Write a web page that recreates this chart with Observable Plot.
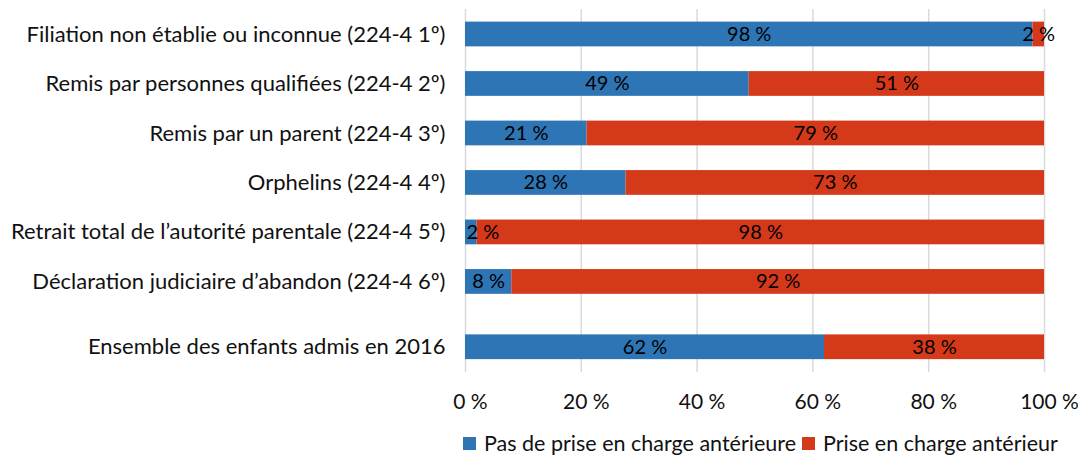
<!DOCTYPE html>
<html>
<head>
<meta charset="utf-8">
<script src="https://cdn.jsdelivr.net/npm/d3@7"></script>
<script src="https://cdn.jsdelivr.net/npm/@observablehq/plot@0.6"></script>
<style>
  html, body { margin: 0; padding: 0; background: #fff; }
  #chart { position: relative; width: 1078px; height: 455px; font-family: Lato, "Open Sans", sans-serif; }
  #legend { display: flex; align-items: center; margin-left: 463px; margin-top: 12px; font-size: 21.5px; line-height: 22px; color: #111; }
  .sw { width: 13px; height: 13px; display: inline-block; margin-right: 8px; }
  .item { display: flex; align-items: center; margin-right: 6px; }
</style>
</head>
<body>
<div id="chart"></div>
<script>
const categories = [
  "Filiation non établie ou inconnue (224-4 1º)",
  "Remis par personnes qualifiées (224-4 2º)",
  "Remis par un parent (224-4 3º)",
  "Orphelins (224-4 4º)",
  "Retrait total de l’autorité parentale (224-4 5º)",
  "Déclaration judiciaire d’abandon (224-4 6º)",
  "Ensemble des enfants admis en 2016"
];
const pasPrise = [98, 49, 21, 28, 2, 8, 62];
const prise = [2, 51, 79, 73, 98, 92, 38];
const seriesNames = ["Pas de prise en charge antérieure", "Prise en charge antérieur"];
const seriesColors = ["#2E75B6", "#D4391A"];
const xTicks = [0, 20, 40, 60, 80, 100];

// row position: the last row (total) is set apart with an extra gap
const rowPos = (i) => i < categories.length - 1 ? i : i + 0.32;

const rows = [];
categories.forEach((c, i) => {
  const vals = [pasPrise[i], prise[i]];
  const total = d3.sum(vals);
  let cum = 0;
  vals.forEach((v, k) => {
    const x1 = cum / total * 100;
    cum += v;
    const x2 = cum / total * 100;
    rows.push({cat: c, pos: rowPos(i), series: seriesNames[k], value: v, x1, x2, mid: (x1 + x2) / 2});
  });
});

const labelOf = new Map(categories.map((c, i) => [rowPos(i), c]));
const half = 0.25;
const fs = 22;
const fsv = 20;

const plot = Plot.plot({
  width: 1078,
  height: 420,
  marginLeft: 465,
  marginRight: 34,
  marginTop: 9,
  marginBottom: 48,
  style: {fontFamily: "Lato, 'Open Sans', sans-serif", fontSize: fs + "px", color: "#111"},
  x: {domain: [0, 100]},
  y: {domain: [-0.505, 6.83], reverse: true},
  color: {domain: seriesNames, range: seriesColors},
  marks: [
    Plot.gridX(xTicks, {stroke: "#d9d9d9", strokeOpacity: 1, strokeWidth: 1.5}),
    Plot.rectX(rows, {x1: "x1", x2: "x2", y1: d => d.pos - half, y2: d => d.pos + half, fill: "series"}),
    Plot.text(rows.filter(d => d.mid >= 3), {x: "mid", y: "pos", text: d => d.value + " %", fill: "#000", fontSize: fsv}),
    Plot.text(rows.filter(d => d.mid < 3), {x: "x1", y: "pos", text: d => d.value + " %", fill: "#000", fontSize: fsv, textAnchor: "start", dx: 1}),
    Plot.axisY({ticks: categories.map((c, i) => rowPos(i)), tickFormat: p => labelOf.get(p), tickSize: 0, tickPadding: 20, label: null, fontSize: fs}),
    Plot.axisX({ticks: xTicks, tickFormat: d => d + " %", tickSize: 0, tickPadding: 22, label: null, fontSize: fsv + 1, dx: 5})
  ]
});
plot.style.display = "block";
document.getElementById("chart").appendChild(plot);

const legend = document.createElement("div");
legend.id = "legend";
seriesNames.forEach((s, k) => {
  const item = document.createElement("div");
  item.className = "item";
  const sw = document.createElement("span");
  sw.className = "sw";
  sw.style.background = seriesColors[k];
  item.appendChild(sw);
  item.appendChild(document.createTextNode(s));
  legend.appendChild(item);
});
document.getElementById("chart").appendChild(legend);
</script>
</body>
</html>
